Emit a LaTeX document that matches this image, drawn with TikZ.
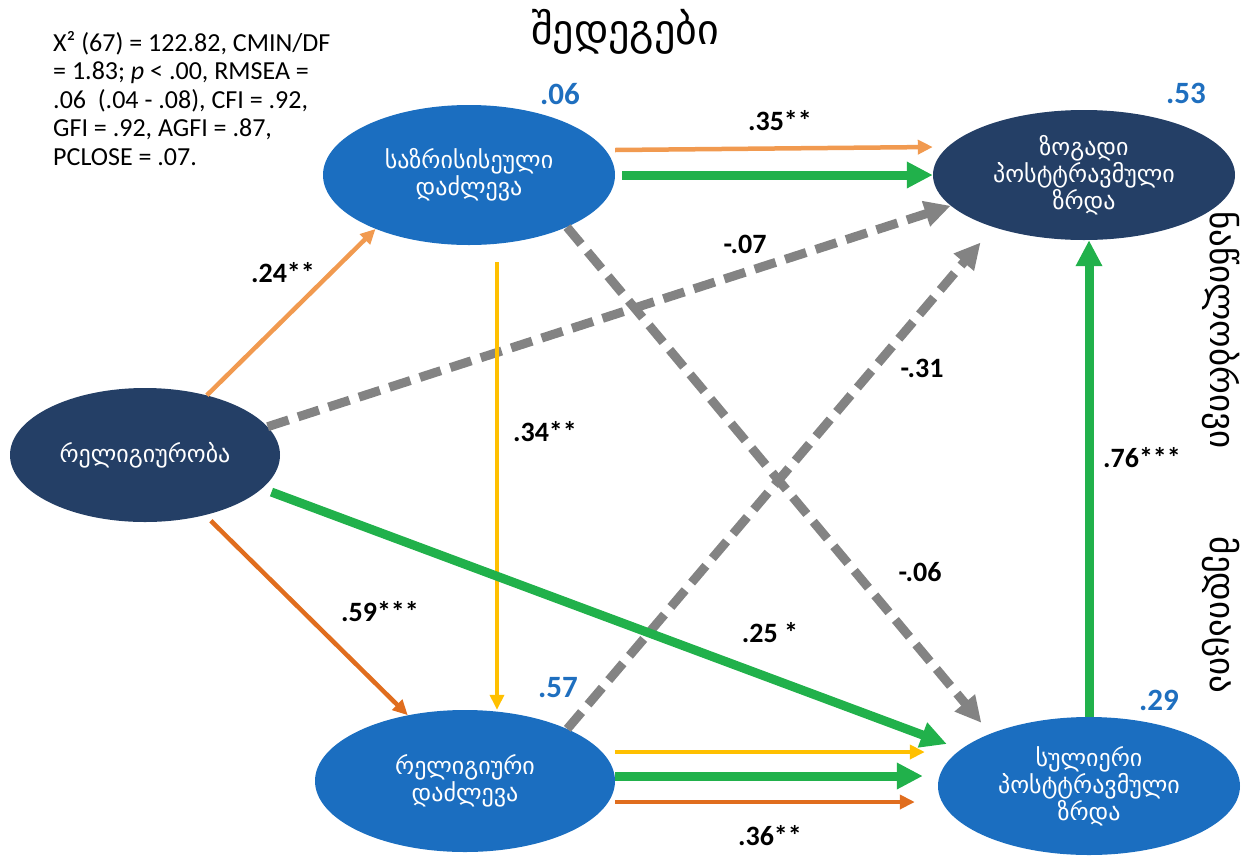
\documentclass[tikz,border=0pt]{standalone}
\usepackage{fontspec}
\setmainfont{Carlito}
\newfontfamily\geo{DejaVu Sans}
\usetikzlibrary{shapes.geometric,arrows.meta}
\definecolor{cblue}{HTML}{1B6EC0}
\definecolor{cnavy}{HTML}{243F66}
\definecolor{cgreen}{HTML}{21B14B}
\definecolor{corl}{HTML}{F19A50}
\definecolor{cord}{HTML}{E06D1E}
\definecolor{cyel}{HTML}{FFC000}
\definecolor{cgrey}{HTML}{838383}
\definecolor{clab}{HTML}{1F6FBF}
\begin{document}
\begin{tikzpicture}[x=1pt,y=-1pt,
  ell/.style={ellipse, inner sep=0pt, text=white, align=center, font=\geo\fontsize{24}{27}\selectfont},
  lat/.style={ell, fill=cnavy},
  obs/.style={ell, fill=cblue},
  coef/.style={font=\bfseries\fontsize{28}{28}\selectfont, inner sep=0pt},
  rsq/.style={font=\bfseries\fontsize{31}{31}\selectfont, text=clab, inner sep=0pt},
  arrthin/.style={line width=4.5pt, -{Triangle[length=15pt,width=14pt]}},
  arrthick/.style={line width=9pt, cgreen, -{Triangle[length=26pt,width=25pt]}},
  arrdash/.style={line width=9pt, cgrey, dash pattern=on 22pt off 10pt, -{Triangle[length=26pt,width=25pt]}},
  vtext/.style={rotate=-90, font=\geo\fontsize{35}{35}\selectfont, inner sep=0pt},
]
\useasboundingbox (0,0) rectangle (1243,855);

% title and fit statistics
\node[font=\geo\fontsize{42}{42}\selectfont, inner sep=0pt] (title) at (625,32) {შედეგები};
\node[anchor=north west, align=left, inner sep=0pt, font=\fontsize{26}{28.5}\selectfont] (fit) at (53,31)
  {X² (67) = 122.82, CMIN/DF\\= 1.83; \textit{p} < .00, RMSEA =\\.06~ (.04 - .08), CFI = .92,\\GFI = .92, AGFI = .87,\\PCLOSE = .07.};

% nodes
\node[obs, minimum width=292, minimum height=140] (cope) at (469,175) {საზრისისეული\\დაძლევა};
\node[lat, minimum width=302, minimum height=130] (gen) at (1084,175) {ზოგადი\\პოსტტრავმული\\ზრდა};
\node[lat, minimum width=270, minimum height=134] (rel) at (145,455) {რელიგიურობა};
\node[obs, minimum width=300, minimum height=142] (rcope) at (465,781) {რელიგიური\\დაძლევა};
\node[obs, minimum width=302, minimum height=138] (spir) at (1089,786) {სულიერი\\პოსტტრავმული\\ზრდა};

% R squared
\node[rsq] (r1) at (560,94) {.06};
\node[rsq] (r2) at (1186,93) {.53};
\node[rsq] (r3) at (558,688) {.57};
\node[rsq] (r4) at (1159,700) {.29};

% connectors
\draw[arrdash] (rel.13) -- (gen.193);
\draw[arrdash, shorten >=20pt] (rcope.27) -- (gen.210);
\draw[arrdash, shorten >=14pt] (cope.-28) -- (spir.152);
\draw[arrthin, corl] ([yshift=25]cope.east) -- ([yshift=28]gen.west);
\draw[arrthick, shorten <=7pt] (cope.east) -- (gen.west);
\draw[arrthin, corl] (rel.44) -- (cope.210);
\draw[arrthin, cord, shorten <=8pt] (rel.-45) -- (rcope.131);
\draw[arrthin, cyel, line width=3.5pt, shorten <=17pt] ([xshift=28]cope.south) -- ([xshift=32]rcope.north);
\draw[arrthick, shorten <=10pt, shorten >=15pt] (rel.-16) -- (spir.164);
\draw[arrthick] (spir.north) -- (spir.north |- gen.south);
\draw[arrthin, cyel, shorten >=13pt] ([yshift=29]rcope.east) -- ([yshift=34]spir.west);
\draw[arrthick, shorten >=15pt] ([yshift=5]rcope.east) -- ([yshift=10]spir.west);
\draw[arrthin, cord, shorten >=23pt] ([yshift=-21]rcope.east) -- ([yshift=-16]spir.west);

% coefficients
\node[coef] (c1) at (780,121) {.35**};
\node[coef] (c2) at (745,244) {-.07};
\node[coef] (c3) at (283,273) {.24**};
\node[coef] (c4) at (545,432) {.34**};
\node[coef] (c5) at (922,368) {-.31};
\node[coef] (c6) at (1142,458) {.76***};
\node[coef] (c7) at (920,572) {-.06};
\node[coef] (c8) at (380,612) {.59***};
\node[coef] (c9) at (770,633) {.25 *};
\node[coef] (c10) at (770,836) {.36**};

% vertical side text
\node[vtext] (v1) at (1221,330) {ნაწილობრივი};
\node[vtext] (v2) at (1221,615) {მედიაცია};
\end{tikzpicture}
\end{document}
